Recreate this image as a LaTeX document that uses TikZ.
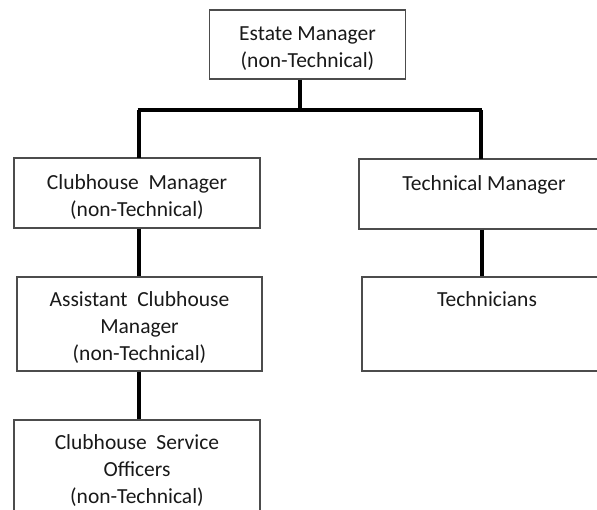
\documentclass[tikz,border=0pt]{standalone}
\usepackage{fontspec}
\setmainfont{Carlito}
\newcommand{\boxtxt}[1]{\raisebox{-4.5pt}[\height][\depth]{\begin{tabular}{@{}c@{}}#1\end{tabular}}}
\begin{document}
\begin{tikzpicture}[x=1pt,y=-1pt,
  box/.style={draw=black!70, line width=1.3pt, rectangle, inner sep=0pt,
    font=\fontsize{21.5}{27}\selectfont, text=black!90},
  conn/.style={line width=4pt, black}]
\useasboundingbox (0,0) rectangle (597,510);
\clip (0,0) rectangle (597,510);
\node[box, minimum width=196, minimum height=69] (em) at (307.5,44.5) {\boxtxt{Estate Manager\\(non-Technical)}};
\node[box, minimum width=246, minimum height=70] (cm) at (137,193) {\boxtxt{Clubhouse\ \ Manager\\(non-Technical)}};
\node[box, minimum width=250, minimum height=70] (tm) at (484,194) {\boxtxt{Technical Manager\\\mbox{}}};
\node[box, minimum width=245, minimum height=94] (acm) at (139.5,324) {\boxtxt{Assistant\ \ Clubhouse\\Manager\\(non-Technical)}};
\node[box, minimum width=250, minimum height=94] (tech) at (487,324) {\boxtxt{Technicians\\\mbox{}\\\mbox{}}};
\node[box, minimum width=246, minimum height=94] (cso) at (137,467) {\boxtxt{Clubhouse\ \ Service\\Officers\\(non-Technical)}};
\coordinate (bar) at (300,110.5);
\draw[conn] (em.south -| bar) -- (bar);
\draw[conn] (137.5,110.5) -- (481.5,110.5);
\draw[conn] (139,110.5) -- (139,158);
\draw[conn] (481,110.5) -- (481,159);
\draw[conn] (cm.south -| 139,0) -- (acm.north -| 139,0);
\draw[conn] (tm.south -| 482,0) -- (tech.north -| 482,0);
\draw[conn] (acm.south -| 139,0) -- (cso.north -| 139,0);
\end{tikzpicture}
\end{document}
